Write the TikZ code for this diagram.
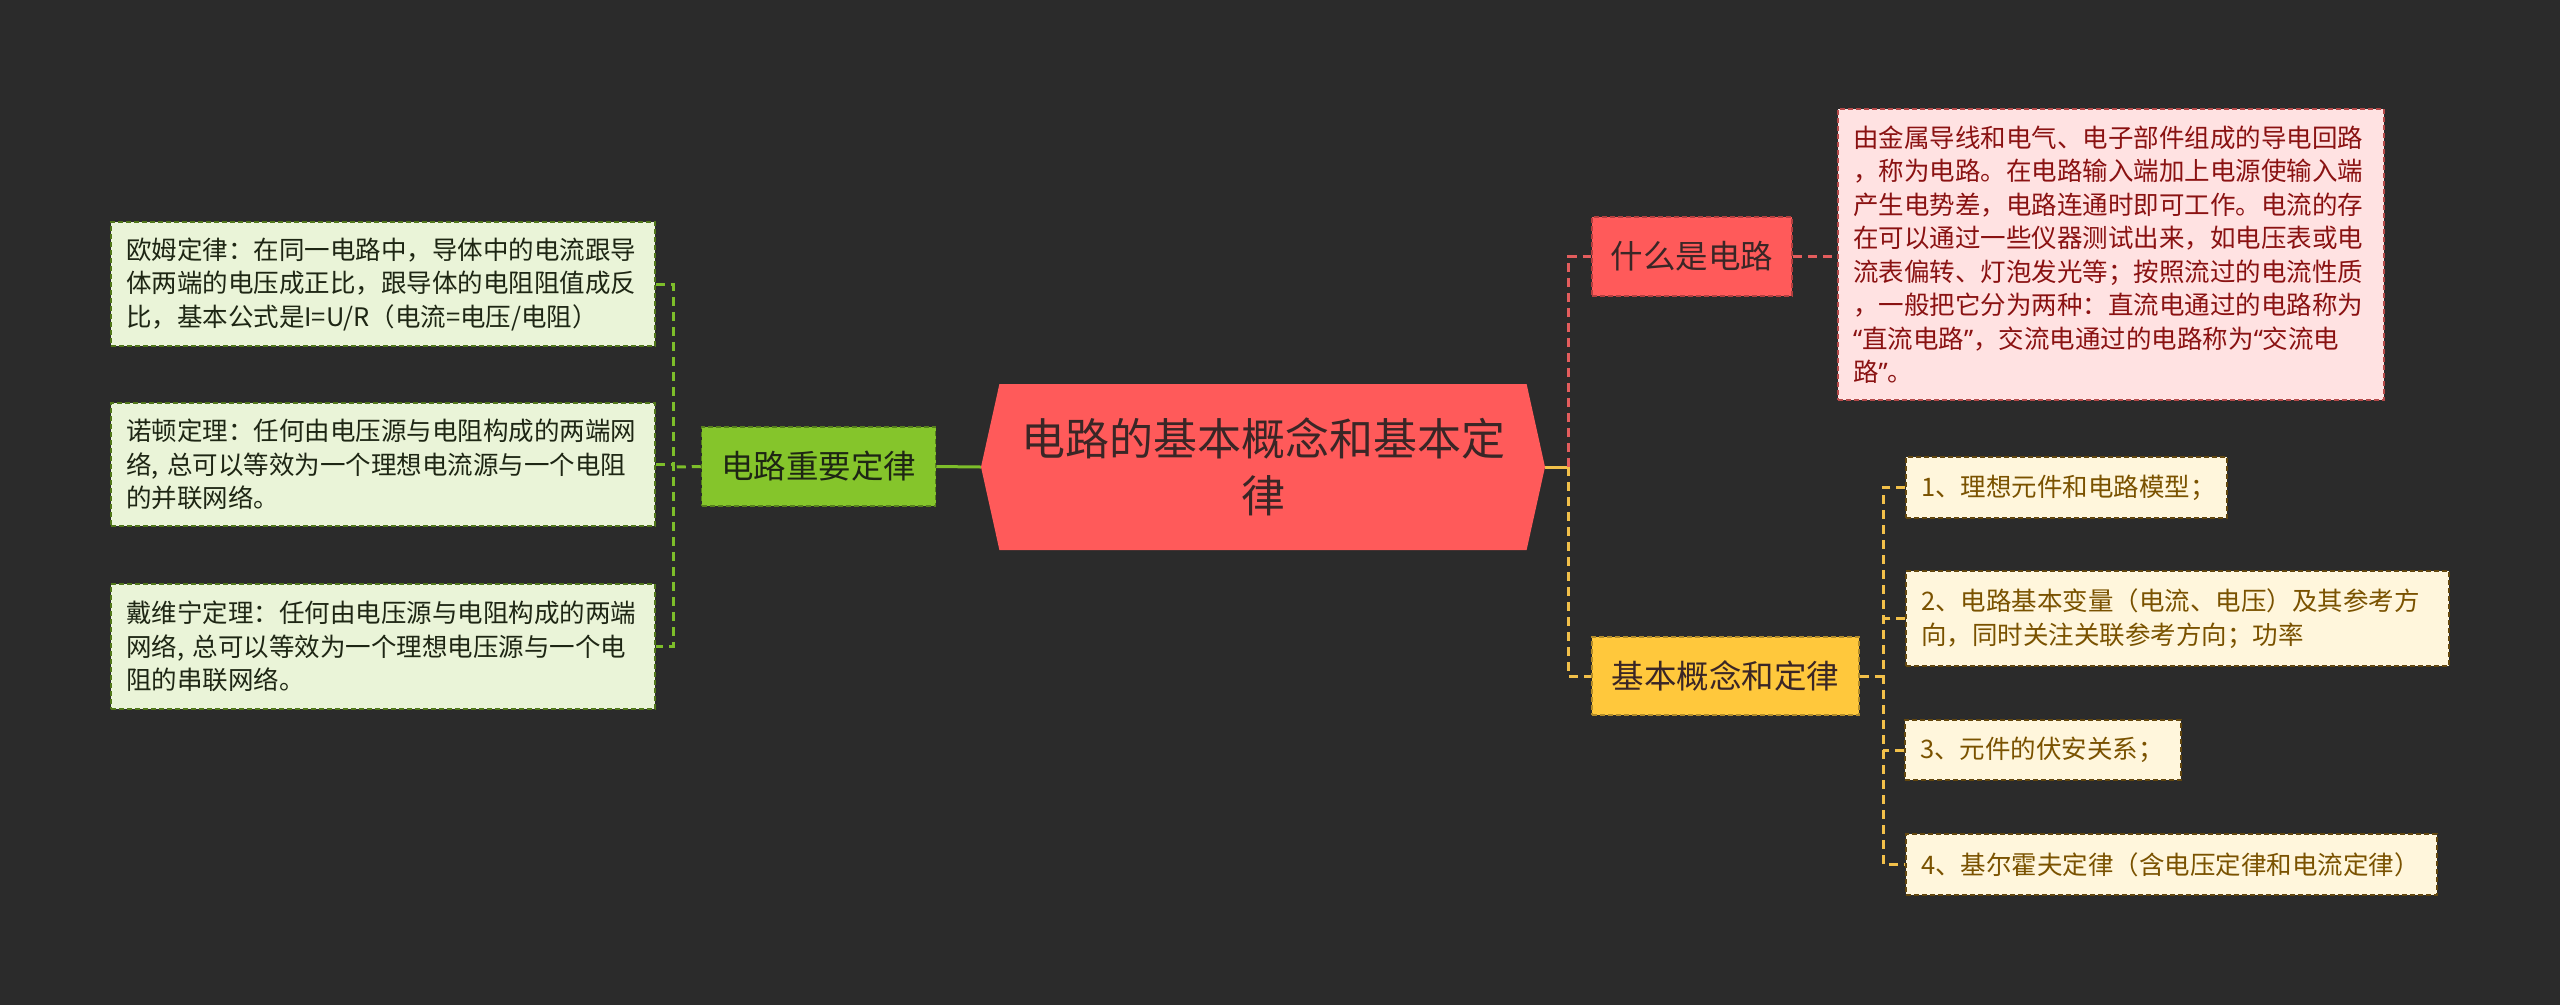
\documentclass[tikz,border=0pt]{standalone}
\usepackage{fontspec}
\setmainfont{Noto Sans CJK SC}
\newfontfamily\quotefont{Noto Sans}
\newcommand{\qopen}{{\quotefont “}}
\newcommand{\qclose}{{\quotefont ”}}
\usepackage{xcolor}
\usetikzlibrary{shapes.symbols}
\definecolor{bgdark}{HTML}{2B2B2B}
\definecolor{rootred}{HTML}{FF5A5A}
\definecolor{roottext}{HTML}{3A2626}
\definecolor{lawgreen}{HTML}{85C52B}
\definecolor{lawline}{HTML}{7DBE2A}
\definecolor{lawleaf}{HTML}{EAF4D8}
\definecolor{lawtext}{HTML}{1E2614}
\definecolor{whatline}{HTML}{E35D5D}
\definecolor{whatleaf}{HTML}{FFE2E2}
\definecolor{whattext}{HTML}{8A1212}
\definecolor{basicyel}{HTML}{FFC83C}
\definecolor{basicline}{HTML}{F2C04A}
\definecolor{basicleaf}{HTML}{FFF6DC}
\definecolor{basictext}{HTML}{7A5200}

\begin{document}
\begin{tikzpicture}[
  x=1pt,
  y=-1pt,
  root/.style={signal, signal to=west and east, signal pointer angle=155, fill=rootred, text=roottext, minimum width=564pt, minimum height=166pt, inner sep=0pt, align=center, font=\fontsize{44}{57}\selectfont},
  topic/.style={draw, dash pattern=on 5pt off 3pt, line width=1.5pt, inner sep=0pt, font=\fontsize{32.5}{40}\selectfont},
  leaf/.style={draw, dash pattern=on 5pt off 3pt, line width=1.5pt, inner xsep=15pt, inner ysep=0pt, align=left, font=\fontsize{25.5}{33.5}\selectfont},
  glink/.style={draw=lawline, line width=3pt, dash pattern=on 9pt off 6pt},
  rlink/.style={draw=whatline, line width=3pt, dash pattern=on 9pt off 6pt},
  ylink/.style={draw=basicline, line width=3pt, dash pattern=on 9pt off 6pt}
]
\fill[bgdark] (0,0) rectangle (2560,1005);
\useasboundingbox (0,0) rectangle (2560,1005);

\node[root] (root) at (1263,467) {电路的基本概念和基本定\\律};

\node[topic, fill=lawgreen, draw=lawgreen!65!black, text=lawtext, minimum width=234pt, minimum height=79pt] (law) at (818.5,466.5) {电路重要定律};
\node[leaf, fill=lawleaf, draw=lawgreen!60!black, text=lawtext, text width=514pt, minimum height=124pt] (ohm) at (383,284) {欧姆定律：在同一电路中，导体中的电流跟导\\体两端的电压成正比，跟导体的电阻阻值成反\\比，基本公式是I=U/R（电流=电压/电阻）};
\node[leaf, fill=lawleaf, draw=lawgreen!60!black, text=lawtext, text width=514pt, minimum height=123pt] (norton) at (383,464.5) {诺顿定理：任何由电压源与电阻构成的两端网\\络, 总可以等效为一个理想电流源与一个电阻\\的并联网络。};
\node[leaf, fill=lawleaf, draw=lawgreen!60!black, text=lawtext, text width=514pt, minimum height=125pt] (thevenin) at (383,646.5) {戴维宁定理：任何由电压源与电阻构成的两端\\网络, 总可以等效为一个理想电压源与一个电\\阻的串联网络。};

\node[topic, fill=rootred, draw=rootred!70!black, text=roottext, minimum width=200pt, minimum height=79pt] (what) at (1692,256.5) {什么是电路};
\node[leaf, fill=whatleaf, draw=whatline!80!black, text=whattext, text width=516pt, minimum height=291pt] (whatnote) at (2111,254.5) {由金属导线和电气、电子部件组成的导电回路\\，称为电路。在电路输入端加上电源使输入端\\产生电势差，电路连通时即可工作。电流的存\\在可以通过一些仪器测试出来，如电压表或电\\流表偏转、灯泡发光等；按照流过的电流性质\\，一般把它分为两种：直流电通过的电路称为\\\qopen 直流电路\qclose ，交流电通过的电路称为\qopen 交流电\\路\qclose 。};

\node[topic, fill=basicyel, draw=basicyel!70!black, text=roottext, minimum width=267pt, minimum height=78pt] (basic) at (1725.5,676) {基本概念和定律};
\node[leaf, fill=basicleaf, draw=basictext!70!bgdark, text=basictext, text width=291pt, minimum height=61pt] (item1) at (2066.5,487.5) {1、理想元件和电路模型；};
\node[leaf, fill=basicleaf, draw=basictext!70!bgdark, text=basictext, text width=513pt, minimum height=95pt] (item2) at (2177.5,618.5) {2、电路基本变量（电流、电压）及其参考方\\向，同时关注关联参考方向；功率};
\node[leaf, fill=basicleaf, draw=basictext!70!bgdark, text=basictext, text width=246pt, minimum height=60pt] (item3) at (2043,750) {3、元件的伏安关系；};
\node[leaf, fill=basicleaf, draw=basictext!70!bgdark, text=basictext, text width=501pt, minimum height=61pt] (item4) at (2171.5,864.5) {4、基尔霍夫定律（含电压定律和电流定律）};

\coordinate (lspine) at (673,467);
\coordinate (rspine) at (1568,467);
\coordinate (bspine) at (1883,676);

\draw[glink, solid] (root.west) -- (law.east);
\draw[glink] (law.west) -- (lspine);
\draw[glink] (ohm.east) -| (lspine) |- (thevenin.east);
\draw[glink] (norton.east) -- (norton.east -| lspine);

\draw[ylink, solid] (root.east) -- (rspine);
\draw[rlink] (rspine) |- (what.west);
\draw[rlink] (what.east) -- (what.east -| whatnote.west);
\draw[ylink] (rspine) |- (basic.west);
\draw[ylink] (basic.east) -- (bspine);
\draw[ylink] (item1.west) -| (bspine) |- (item4.west);
\draw[ylink] (item2.west) -- (item2.west -| bspine);
\draw[ylink] (item3.west) -- (item3.west -| bspine);
\end{tikzpicture}
\end{document}
